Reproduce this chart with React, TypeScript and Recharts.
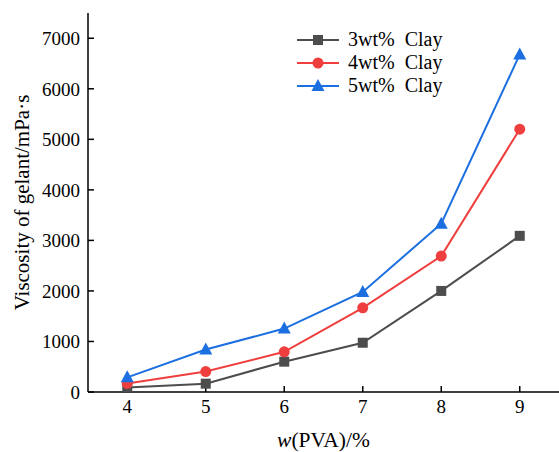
import React from "react";
import { LineChart, Line, XAxis, YAxis } from "recharts";

const pva = [4, 5, 6, 7, 8, 9];
const clay3 = [90, 165, 600, 975, 2000, 3090];
const clay4 = [170, 405, 795, 1665, 2690, 5200];
const clay5 = [290, 840, 1255, 1980, 3330, 6680];
const xTicks = [4, 5, 6, 7, 8, 9];
const yTicks = [0, 1000, 2000, 3000, 4000, 5000, 6000, 7000];
const yMinorTicks = [500, 1500, 2500, 3500, 4500, 5500, 6500];

const data = pva.map((p, i) => ({ pva: p, c3: clay3[i], c4: clay4[i], c5: clay5[i] }));

const FONT = "'Liberation Serif', 'Times New Roman', serif";
const GRAY = "#4d4d4d";
const RED = "#ef3e3e";
const BLUE = "#1c6fe0";

const series = [
  { key: "c3", name: "3wt%  Clay", color: GRAY, shape: "square" },
  { key: "c4", name: "4wt%  Clay", color: RED, shape: "circle" },
  { key: "c5", name: "5wt%  Clay", color: BLUE, shape: "triangle" },
];

function Marker({ cx, cy, shape, color }: any) {
  if (cx == null || cy == null) return null;
  if (shape === "square") return <rect x={cx - 5} y={cy - 5} width={10} height={10} fill={color} />;
  if (shape === "circle") return <circle cx={cx} cy={cy} r={5.5} fill={color} />;
  return <polygon points={`${cx},${cy - 7} ${cx - 6.5},${cy + 5} ${cx + 6.5},${cy + 5}`} fill={color} />;
}

function LegendBox() {
  return (
    <div style={{ position: "absolute", left: 296, top: 28, fontFamily: FONT, fontSize: 20, color: "#000", lineHeight: "23px" }}>
      {series.map((s) => (
        <div key={s.key} style={{ display: "flex", alignItems: "center", height: 23 }}>
          <svg width={44} height={16} style={{ marginRight: 8 }}>
            <line x1={1} y1={8} x2={43} y2={8} stroke={s.color} strokeWidth={2} />
            <Marker cx={22} cy={8} shape={s.shape} color={s.color} />
          </svg>
          <span style={{ whiteSpace: "pre" }}>{s.name}</span>
        </div>
      ))}
    </div>
  );
}

function XLabel({ viewBox }: any) {
  const { x, width } = viewBox;
  return (
    <text x={x + width / 2} y={447} textAnchor="middle" fontFamily={FONT} fontSize={21.5} fill="#000">
      <tspan fontStyle="italic">w</tspan>
      <tspan>(PVA)/%</tspan>
    </text>
  );
}

export default function App() {
  const tickStyle = { fontFamily: FONT, fontSize: 19, fill: "#000" };
  return (
    <div style={{ position: "absolute", left: 0, top: 0, width: 559, height: 452, background: "#fff", overflow: "hidden" }}>
      <LineChart width={559} height={452} data={data} margin={{ top: 13, right: 0, bottom: 0, left: 0 }}>
        <XAxis
          dataKey="pva"
          type="number"
          domain={[3.5, 9.5]}
          ticks={xTicks}
          allowDataOverflow
          height={60}
          axisLine={{ stroke: "#000", strokeWidth: 1.5 }}
          tickLine={{ stroke: "#000", strokeWidth: 1.5 }}
          tickSize={-6}
          tickMargin={14}
          tick={tickStyle}
          label={<XLabel />}
        />
        <XAxis
          xAxisId="top"
          orientation="top"
          dataKey="pva"
          type="number"
          domain={[3.5, 9.5]}
          height={0}
          tick={false}
          tickLine={false}
          axisLine={{ stroke: "#000", strokeWidth: 1.5 }}
        />
        <YAxis
          type="number"
          domain={[0, 7500]}
          ticks={yTicks}
          allowDataOverflow
          width={88}
          axisLine={{ stroke: "#000", strokeWidth: 1.5 }}
          tickLine={{ stroke: "#000", strokeWidth: 1.5 }}
          tickSize={-6}
          tickMargin={14}
          tick={tickStyle}
          label={{
            value: "Viscosity of gelant/mPa·s",
            angle: -90,
            position: "insideLeft",
            offset: 22,
            style: { fontFamily: FONT, fontSize: 21, fill: "#000", textAnchor: "middle" },
          }}
        />
        <YAxis
          yAxisId="minor"
          type="number"
          domain={[0, 7500]}
          ticks={yMinorTicks}
          mirror
          width={0}
          axisLine={false}
          tick={false}
          tickLine={{ stroke: "#000", strokeWidth: 1.2 }}
          tickSize={3}
        />
        {series.map((s) => (
          <Line
            key={s.key}
            dataKey={s.key}
            name={s.name}
            stroke={s.color}
            strokeWidth={2}
            isAnimationActive={false}
            dot={(p: any) => <Marker key={`${s.key}-${p.index}`} cx={p.cx} cy={p.cy} shape={s.shape} color={s.color} />}
            activeDot={false}
          />
        ))}
      </LineChart>
      <LegendBox />
    </div>
  );
}
